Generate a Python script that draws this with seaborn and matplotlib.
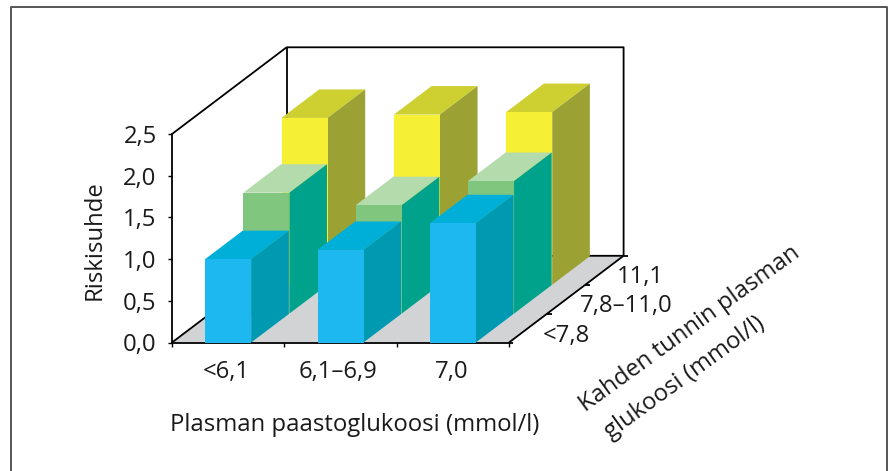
import matplotlib
matplotlib.use("Agg")
import matplotlib.pyplot as plt
import pandas as pd
import seaborn as sns

sns.set_theme(style="white")
plt.rcParams["font.family"] = ["Open Sans", "DejaVu Sans"]

fasting = ["<6,1", "6,1–6,9", "7,0"]
two_hour = ["<7,8", "7,8–11,0", "11,1"]
row_low = [1.00, 1.11, 1.43]
row_mid = [1.45, 1.30, 1.59]
row_high = [2.00, 2.04, 2.07]
rows = [row_low, row_mid, row_high]
y_ticks = [0.0, 0.5, 1.0, 1.5, 2.0, 2.5]
y_tick_labels = ["0,0", "0,5", "1,0", "1,5", "2,0", "2,5"]

front_cols = ["#1EB8F0", "#80C67F", "#F6F035"]
top_cols = ["#00AFD8", "#B4DBAC", "#CDD030"]
side_cols = ["#0099B2", "#00A28C", "#9BA233"]

W, H = 888, 471
L, R, B, T = 172, 509, 342.5, 134
DX, DY = 38.2, 28.9       # pixel shift of one depth row
bar_w = 46 / ((R - L) / 3)
dx_u = DX / ((R - L) / 3)  # depth step in category units
dy_u = DY / ((B - T) / 2.5)  # depth step in value units
FS = 17.2
INK = "#1a1a1a"

fig = plt.figure(figsize=(W / 100, H / 100), dpi=100, facecolor="white")


def make_axes(k, z):
    ax = fig.add_axes([(L + k * DX) / W, (H - B + k * DY) / H, (R - L) / W, (B - T) / H],
                      zorder=z)
    ax.patch.set_alpha(0)
    return ax


def finish(ax):
    ax.set_xlim(-0.5, 2.5)
    ax.set_ylim(0, 2.5)


# outer frame
fig.add_artist(plt.Line2D([11 / W, 11 / W, 886.5 / W, 886.5 / W],
                          [0, 1 - 6.5 / H, 1 - 6.5 / H, 0], color="#555555", lw=1.4))

# floor and back walls
base = make_axes(0, 0)
finish(base)
base.axis("off")
x0, x1 = -0.5, 2.5
d3x, d3y = 3 * dx_u, 3 * dy_u
base.fill([x0, x1, x1 + d3x, x0 + d3x], [0, 0, d3y, d3y], color="#D2D3D5", lw=0, clip_on=False)
line = dict(color="black", lw=1.3, clip_on=False, solid_capstyle="butt")
base.plot([x0, x0 + d3x, x1 + d3x, x1 + d3x], [2.5, 2.5 + d3y, 2.5 + d3y, d3y], **line)
base.plot([x0 + d3x, x0 + d3x], [2.5 + d3y, d3y], **line)
base.plot([x0, x0 + d3x, x1 + d3x], [0, d3y, d3y], **line)
base.plot([x1, x1 + d3x], [0, d3y], **line)
for k in range(4):
    bx = x1 + k * dx_u
    by = k * dy_u
    base.plot([bx, bx + 0.04], [by, by], **line)

# bars, back row first
for k in (2, 1, 0):
    ax = make_axes(k, 10 - k)
    df = pd.DataFrame({"fasting": fasting, "risk": rows[k]})
    sns.barplot(data=df, x="fasting", y="risk", color=front_cols[k], saturation=1,
                width=bar_w, ax=ax, errorbar=None, linewidth=0, zorder=3)
    finish(ax)
    for i, v in enumerate(rows[k]):
        a, b = i - bar_w / 2, i + bar_w / 2
        e_x, e_y = dx_u * 0.985, dy_u * 0.985
        ax.fill([a, b, b + e_x, a + e_x], [v, v, v + e_y, v + e_y],
                color=top_cols[k], lw=0, clip_on=False, zorder=2)
        ax.fill([b, b + e_x, b + e_x, b], [0, e_y, v + e_y, v],
                color=side_cols[k], lw=0, clip_on=False, zorder=2)
    if k > 0:
        ax.axis("off")

# front axis
ax.set_xlabel("")
ax.set_ylabel("")
sns.despine(ax=ax)
for s in ("left", "bottom"):
    ax.spines[s].set_color("black")
    ax.spines[s].set_linewidth(1.3)
ax.set_xticks([-0.5, 0.5, 1.5, 2.5], labels=[])
ax.tick_params(axis="x", length=3, width=1, color="black", bottom=True)
ax.set_yticks(y_ticks, labels=y_tick_labels, fontsize=FS, color=INK)
ax.tick_params(axis="y", length=3, width=1, color="black", left=True, pad=8)


def px_text(x, y, s, **kw):
    fig.text(x / W, 1 - y / H, s, fontsize=FS, color=INK, ha=kw.pop("ha", "center"),
             va="center", **kw)


for x, s in zip([226, 338, 452], fasting):
    px_text(x, 372, s)
for x, y, s in zip([566, 626, 640], [336, 306, 277], two_hour):
    px_text(x, y, s)
px_text(355, 425, "Plasman paastoglukoosi (mmol/l)")
px_text(95, 240, "Riskisuhde", rotation=90)
px_text(690, 329, "Kahden tunnin plasman", rotation=36, rotation_mode="anchor")
px_text(685, 378, "glukoosi (mmol/l)", rotation=36, rotation_mode="anchor")

fig.savefig("out.png", dpi=100)
